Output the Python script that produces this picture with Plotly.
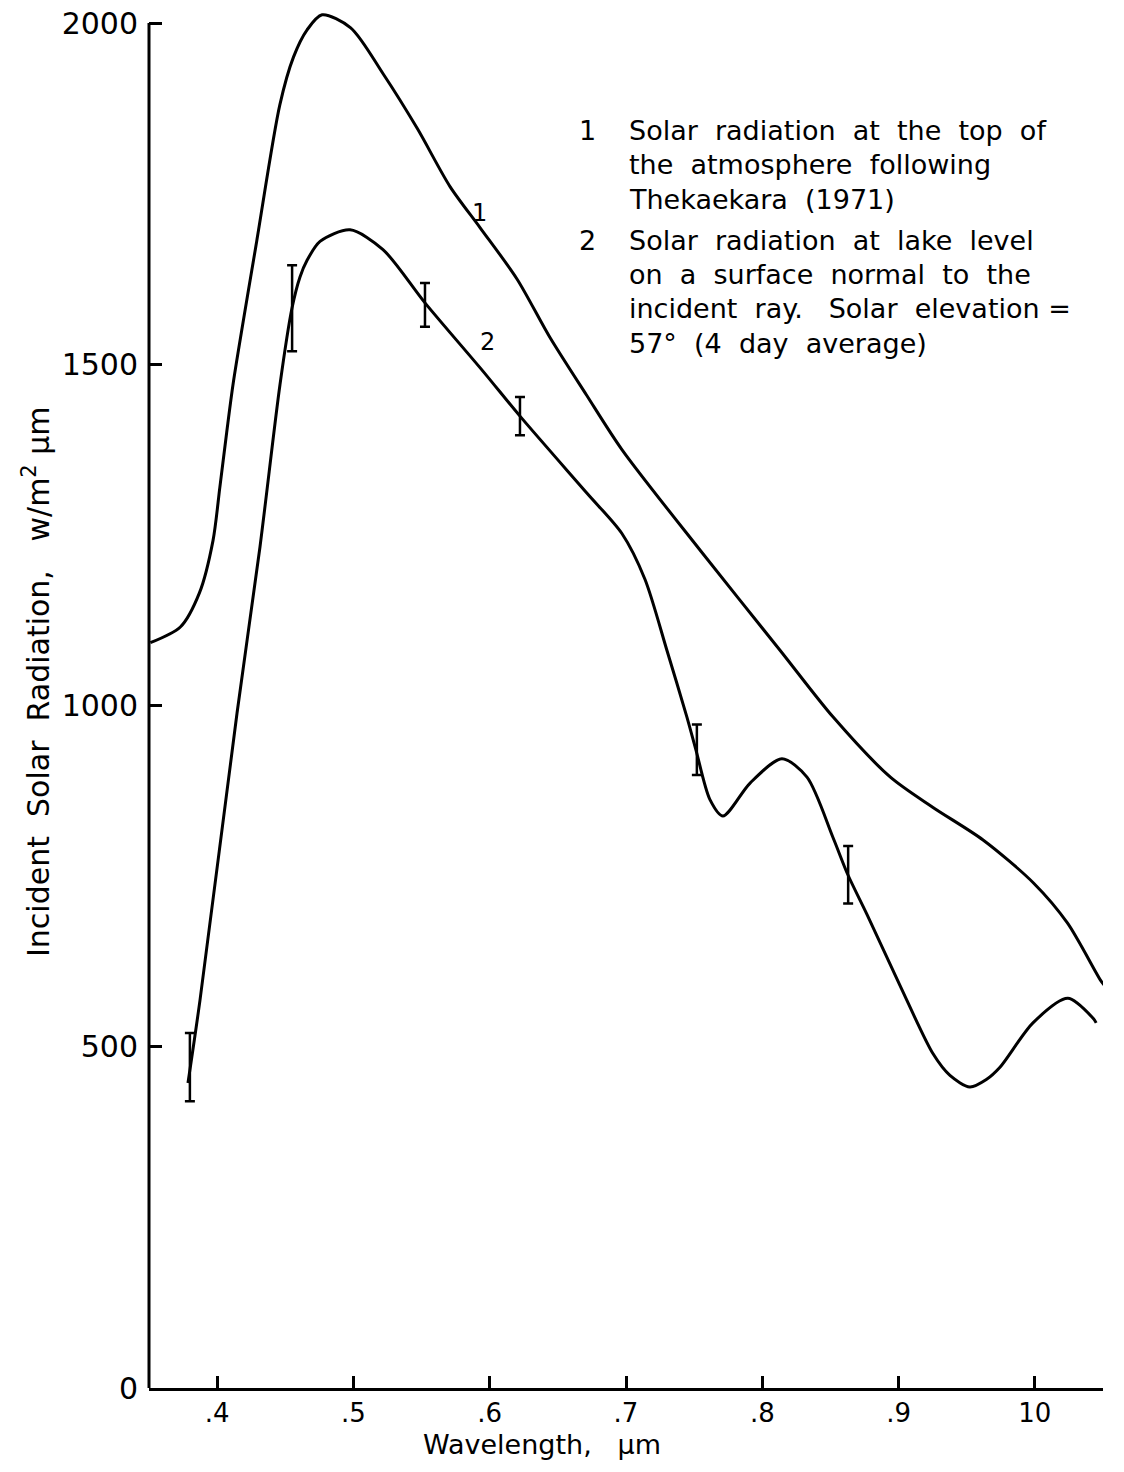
import plotly.graph_objects as go

# Curve 1: solar radiation at the top of the atmosphere (Thekaekara, 1971)
wl_top = [0.351, 0.373, 0.387, 0.397, 0.402, 0.407, 0.412, 0.429, 0.446, 0.456,
          0.466, 0.477, 0.498, 0.522, 0.547, 0.571, 0.593, 0.620, 0.644, 0.671,
          0.697, 0.755, 0.813, 0.852, 0.894, 0.925, 0.962, 0.999, 1.024, 1.048,
          1.051]
rad_top = [1092, 1115, 1165, 1242, 1320, 1400, 1475, 1680, 1880, 1950,
           1990, 2012, 1993, 1925, 1845, 1760, 1700, 1625, 1540, 1455,
           1375, 1226, 1081, 983, 895, 851, 803, 740, 681, 598,
           590]

# Curve 2: solar radiation at lake level, surface normal to the incident ray
wl_lake = [0.3786, 0.3874, 0.4146, 0.4314, 0.4461, 0.4549, 0.4608, 0.4659, 0.4755,
           0.4975, 0.5217, 0.5525, 0.595, 0.6222, 0.6714, 0.697, 0.7139, 0.730,
           0.7447, 0.7513, 0.7616, 0.7711, 0.7909, 0.8144, 0.8328, 0.8518, 0.8628,
           0.8768, 0.901, 0.9252, 0.9377, 0.9523, 0.9644, 0.9744, 0.9986, 1.0242,
           1.0426, 1.045]
rad_lake = [447, 568, 989, 1232, 1470, 1582, 1628, 1652, 1680,
            1697, 1668, 1590, 1490, 1424, 1311, 1252, 1185, 1081,
            983, 935, 862, 838, 886, 922, 895, 807, 752,
            694, 590, 490, 458, 441, 452, 470, 535, 571,
            542, 535]

# Measured lake-level values with their ranges (4 day average)
meas_wl = [0.380, 0.455, 0.5525, 0.6222, 0.752, 0.863]
meas_rad = [470, 1582, 1587, 1424, 935, 752]
meas_err = [50, 63, 32, 28, 37, 42]

x_tickvals = [0.4, 0.5, 0.6, 0.7, 0.8, 0.9, 1.0]
x_ticktext = [".4", ".5", ".6", ".7", ".8", ".9", "10"]
y_tickvals = [0, 500, 1000, 1500, 2000]
y_ticktext = ["0", "500", "1000", "1500", "2000"]

legend_lines = [
    ("1", "Solar  radiation  at  the  top  of"),
    ("", "the  atmosphere  following"),
    ("", "Thekaekara  (1971)"),
    ("2", "Solar  radiation  at  lake  level"),
    ("", "on  a  surface  normal  to  the"),
    ("", "incident  ray.   Solar  elevation ="),
    ("", "57°  (4  day  average)"),
]

FONT = "DejaVu Sans"
INK = "black"

fig = go.Figure()

fig.add_trace(go.Scatter(
    x=wl_top, y=rad_top, mode="lines",
    line=dict(color=INK, width=3, shape="spline", smoothing=0.8),
    hoverinfo="skip", showlegend=False,
))
fig.add_trace(go.Scatter(
    x=wl_lake, y=rad_lake, mode="lines",
    line=dict(color=INK, width=3, shape="spline", smoothing=0.8),
    hoverinfo="skip", showlegend=False,
))
fig.add_trace(go.Scatter(
    x=meas_wl, y=meas_rad, mode="markers",
    marker=dict(size=1, color="rgba(0,0,0,0)"),
    error_y=dict(type="data", array=meas_err, symmetric=True,
                 width=5, thickness=2.5, color=INK),
    hoverinfo="skip", showlegend=False,
))

Y_TOP = 2030.8  # headroom so the peak of curve 1 is not clipped

# left axis line, ending at the 2000 tick
fig.add_shape(type="line", xref="paper", yref="y", x0=0, x1=0, y0=0, y1=2000,
              line=dict(color=INK, width=3))

annotations = []
# curve labels
annotations.append(dict(x=0.5928, y=1722, xref="x", yref="y", text="1",
                        showarrow=False, font=dict(family=FONT, size=24, color=INK)))
annotations.append(dict(x=0.5987, y=1533, xref="x", yref="y", text="2",
                        showarrow=False, font=dict(family=FONT, size=24, color=INK)))

# key text
key_y = [1843, 1792, 1741, 1682, 1632, 1582, 1530]
for (num, txt), yy in zip(legend_lines, key_y):
    if num:
        annotations.append(dict(x=0.6721, y=yy, xref="x", yref="y", text=num,
                                showarrow=False, xanchor="center", yanchor="middle",
                                font=dict(family=FONT, size=27, color=INK)))
    annotations.append(dict(x=0.7007, y=yy, xref="x", yref="y", text=txt,
                            showarrow=False, xanchor="left", yanchor="middle",
                            font=dict(family=FONT, size=27, color=INK)))

# axis titles
annotations.append(dict(x=(542 - 149) / 954, y=(1388 - 1444) / 1386,
                        xref="paper", yref="paper", text="Wavelength,   μm",
                        showarrow=False, xanchor="center", yanchor="middle",
                        font=dict(family=FONT, size=27, color=INK)))
annotations.append(dict(x=(36 - 149) / 954, y=(1388 - 682) / 1386,
                        xref="paper", yref="paper",
                        text="Incident  Solar  Radiation,   w/m<sup>2</sup> μm",
                        textangle=-90, showarrow=False,
                        xanchor="center", yanchor="middle",
                        font=dict(family=FONT, size=30, color=INK)))

fig.update_layout(
    width=1124, height=1472,
    margin=dict(l=149, r=21, t=2, b=84, pad=0),
    paper_bgcolor="white", plot_bgcolor="white",
    font=dict(family=FONT, color=INK),
    annotations=annotations,
    xaxis=dict(
        range=[0.35, 1.05], showgrid=False, zeroline=False,
        showline=True, linecolor=INK, linewidth=3,
        ticks="inside", ticklen=12, tickwidth=2.5, tickcolor=INK,
        tickvals=x_tickvals, ticktext=x_ticktext,
        tickfont=dict(family=FONT, size=26, color=INK),
    ),
    yaxis=dict(
        range=[0, Y_TOP], showgrid=False, zeroline=False, showline=False,
        ticks="inside", ticklen=13, tickwidth=2.5, tickcolor=INK,
        tickvals=y_tickvals, ticktext=y_ticktext, ticklabelstandoff=10,
        tickfont=dict(family=FONT, size=30, color=INK),
    ),
)

fig.write_html("out.html")
